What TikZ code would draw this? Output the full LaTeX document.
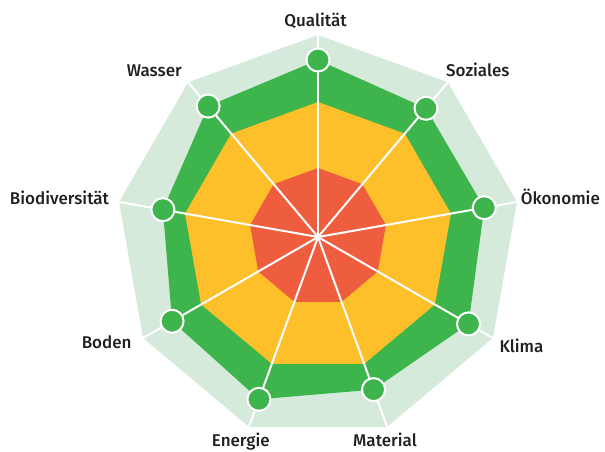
\documentclass[tikz,border=0pt]{standalone}
\usepackage{fontspec}
\setmainfont{Fira Sans Medium}
\definecolor{bgband}{HTML}{D5EADB}
\definecolor{goodgreen}{HTML}{3DB54C}
\definecolor{midyellow}{HTML}{FDC02A}
\definecolor{badred}{HTML}{EE5E3E}
\definecolor{labeltext}{HTML}{231F20}
\tikzset{
  datadot/.style={circle, fill=goodgreen, draw=white, line width=2pt, minimum size=23pt, inner sep=0pt},
  axisline/.style={draw=white, line width=2pt},
  axislabel/.style={font=\fontsize{17}{19}\selectfont, text=labeltext, inner sep=0pt}
}
\begin{document}
\begin{tikzpicture}[x=1pt,y=-1pt]
\useasboundingbox (0,0) rectangle (605,451);
\coordinate (c) at (318,237);
\foreach \i/\r in {0/177,1/168,2/168.8,3/173.8,4/162.4,5/172.7,6/168.5,7/157.5,8/170.9}{
  \pgfmathsetmacro{\ang}{40*\i}
  \coordinate (o\i) at ({318+202*sin(\ang)},{237-202*cos(\ang)});
  \coordinate (y\i) at ({318+135*sin(\ang)},{237-135*cos(\ang)});
  \coordinate (r\i) at ({318+69*sin(\ang)},{237-69*cos(\ang)});
  \coordinate (g\i) at ({318+\r*sin(\ang)},{237-\r*cos(\ang)});
}
\fill[bgband] (o0) \foreach \i in {1,...,8}{ -- (o\i)} -- cycle;
\fill[goodgreen] (g0) \foreach \i in {1,...,8}{ -- (g\i)} -- cycle;
\fill[midyellow] (y0) \foreach \i in {1,...,8}{ -- (y\i)} -- cycle;
\fill[badred] (r0) \foreach \i in {1,...,8}{ -- (r\i)} -- cycle;
\foreach \i in {0,...,8}{ \draw[axisline] (c) -- (o\i); }
\foreach \i in {0,...,8}{ \node[datadot] (d\i) at (g\i) {}; }
\node[axislabel, anchor=base] (lq) at (315.5,26) {Qualität};
\node[axislabel, anchor=base west] (ls) at (446,76) {Soziales};
\node[axislabel, anchor=base west] (lo) at (520.7,204.3) {Ökonomie};
\node[axislabel, anchor=base west] (lk) at (499.3,352.7) {Klima};
\node[axislabel, anchor=base] (lm) at (385,446.7) {Material};
\node[axislabel, anchor=base] (le) at (240.8,446.7) {Energie};
\node[axislabel, anchor=base east] (lb) at (131.7,348.3) {Boden};
\node[axislabel, anchor=base east] (lbd) at (109.3,204) {Biodiversität};
\node[axislabel, anchor=base east] (lw) at (182,76) {Wasser};
\end{tikzpicture}
\end{document}
